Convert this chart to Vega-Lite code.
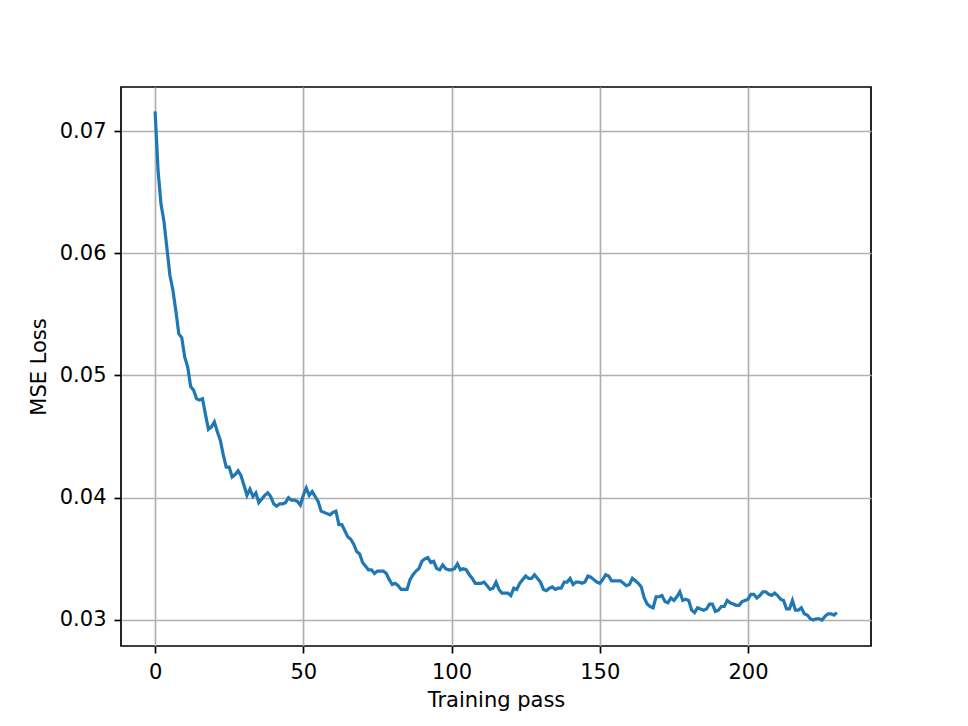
{
  "$schema": "https://vega.github.io/schema/vega-lite/v6.json",
  "width": 750,
  "height": 559,
  "autosize": {"type": "none"},
  "padding": {"left": 121, "top": 87, "right": 97, "bottom": 80},
  "background": "white",
  "config": {
    "font": "DejaVu Sans",
    "view": {"stroke": "black", "strokeWidth": 1.7},
    "axis": {
      "domain": false,
      "grid": true,
      "gridColor": "#b0b0b0",
      "gridWidth": 1.7,
      "gridOpacity": 1,
      "tickColor": "black",
      "tickSize": 7,
      "tickWidth": 1.7,
      "labelFont": "DejaVu Sans",
      "labelFontSize": 21,
      "labelColor": "black",
      "titleFont": "DejaVu Sans",
      "titleFontSize": 21,
      "titleFontWeight": "normal",
      "titleColor": "black",
      "labelPadding": 8
    }
  },
  "data": {
    "values": [
      {"pass": 0, "loss": 0.0716}, {"pass": 1, "loss": 0.0668}, {"pass": 2, "loss": 0.0640}, {"pass": 3, "loss": 0.0626}, {"pass": 4, "loss": 0.0604},
      {"pass": 5, "loss": 0.0582}, {"pass": 6, "loss": 0.0570}, {"pass": 7, "loss": 0.0553}, {"pass": 8, "loss": 0.0534}, {"pass": 9, "loss": 0.0531},
      {"pass": 10, "loss": 0.0515}, {"pass": 11, "loss": 0.0507}, {"pass": 12, "loss": 0.0491}, {"pass": 13, "loss": 0.0488}, {"pass": 14, "loss": 0.0481},
      {"pass": 15, "loss": 0.0480}, {"pass": 16, "loss": 0.0481}, {"pass": 17, "loss": 0.0468}, {"pass": 18, "loss": 0.0456}, {"pass": 19, "loss": 0.0458},
      {"pass": 20, "loss": 0.0462}, {"pass": 21, "loss": 0.0454}, {"pass": 22, "loss": 0.0447}, {"pass": 23, "loss": 0.0435}, {"pass": 24, "loss": 0.0425},
      {"pass": 25, "loss": 0.0425}, {"pass": 26, "loss": 0.0417}, {"pass": 27, "loss": 0.0419}, {"pass": 28, "loss": 0.0422}, {"pass": 29, "loss": 0.0418},
      {"pass": 30, "loss": 0.0410}, {"pass": 31, "loss": 0.0402}, {"pass": 32, "loss": 0.0407}, {"pass": 33, "loss": 0.0401}, {"pass": 34, "loss": 0.0404},
      {"pass": 35, "loss": 0.0396}, {"pass": 36, "loss": 0.0399}, {"pass": 37, "loss": 0.0402}, {"pass": 38, "loss": 0.0404}, {"pass": 39, "loss": 0.0401},
      {"pass": 40, "loss": 0.0395}, {"pass": 41, "loss": 0.0393}, {"pass": 42, "loss": 0.0395}, {"pass": 43, "loss": 0.0395}, {"pass": 44, "loss": 0.0396},
      {"pass": 45, "loss": 0.0400}, {"pass": 46, "loss": 0.0398}, {"pass": 47, "loss": 0.0398}, {"pass": 48, "loss": 0.0397}, {"pass": 49, "loss": 0.0394},
      {"pass": 50, "loss": 0.0402}, {"pass": 51, "loss": 0.0408}, {"pass": 52, "loss": 0.0402}, {"pass": 53, "loss": 0.0405}, {"pass": 54, "loss": 0.0401},
      {"pass": 55, "loss": 0.0397}, {"pass": 56, "loss": 0.0389}, {"pass": 57, "loss": 0.0388}, {"pass": 58, "loss": 0.0387}, {"pass": 59, "loss": 0.0386},
      {"pass": 60, "loss": 0.0388}, {"pass": 61, "loss": 0.0389}, {"pass": 62, "loss": 0.0378}, {"pass": 63, "loss": 0.0378}, {"pass": 64, "loss": 0.0373},
      {"pass": 65, "loss": 0.0368}, {"pass": 66, "loss": 0.0366}, {"pass": 67, "loss": 0.0362}, {"pass": 68, "loss": 0.0356}, {"pass": 69, "loss": 0.0354},
      {"pass": 70, "loss": 0.0347}, {"pass": 71, "loss": 0.0344}, {"pass": 72, "loss": 0.0341}, {"pass": 73, "loss": 0.0341}, {"pass": 74, "loss": 0.0338},
      {"pass": 75, "loss": 0.0340}, {"pass": 76, "loss": 0.0340}, {"pass": 77, "loss": 0.0340}, {"pass": 78, "loss": 0.0338}, {"pass": 79, "loss": 0.0333},
      {"pass": 80, "loss": 0.0329}, {"pass": 81, "loss": 0.0330}, {"pass": 82, "loss": 0.0328}, {"pass": 83, "loss": 0.0325}, {"pass": 84, "loss": 0.0325},
      {"pass": 85, "loss": 0.0325}, {"pass": 86, "loss": 0.0333}, {"pass": 87, "loss": 0.0337}, {"pass": 88, "loss": 0.0340}, {"pass": 89, "loss": 0.0342},
      {"pass": 90, "loss": 0.0348}, {"pass": 91, "loss": 0.0350}, {"pass": 92, "loss": 0.0351}, {"pass": 93, "loss": 0.0347}, {"pass": 94, "loss": 0.0348},
      {"pass": 95, "loss": 0.0342}, {"pass": 96, "loss": 0.0341}, {"pass": 97, "loss": 0.0345}, {"pass": 98, "loss": 0.0342}, {"pass": 99, "loss": 0.0341},
      {"pass": 100, "loss": 0.0341}, {"pass": 101, "loss": 0.0342}, {"pass": 102, "loss": 0.0346}, {"pass": 103, "loss": 0.0341}, {"pass": 104, "loss": 0.0342},
      {"pass": 105, "loss": 0.0341}, {"pass": 106, "loss": 0.0337}, {"pass": 107, "loss": 0.0334}, {"pass": 108, "loss": 0.0330}, {"pass": 109, "loss": 0.0330},
      {"pass": 110, "loss": 0.0330}, {"pass": 111, "loss": 0.0331}, {"pass": 112, "loss": 0.0328}, {"pass": 113, "loss": 0.0325}, {"pass": 114, "loss": 0.0326},
      {"pass": 115, "loss": 0.0331}, {"pass": 116, "loss": 0.0325}, {"pass": 117, "loss": 0.0322}, {"pass": 118, "loss": 0.0322}, {"pass": 119, "loss": 0.0322},
      {"pass": 120, "loss": 0.0320}, {"pass": 121, "loss": 0.0326}, {"pass": 122, "loss": 0.0325}, {"pass": 123, "loss": 0.0330}, {"pass": 124, "loss": 0.0333},
      {"pass": 125, "loss": 0.0336}, {"pass": 126, "loss": 0.0334}, {"pass": 127, "loss": 0.0334}, {"pass": 128, "loss": 0.0337}, {"pass": 129, "loss": 0.0334},
      {"pass": 130, "loss": 0.0331}, {"pass": 131, "loss": 0.0325}, {"pass": 132, "loss": 0.0324}, {"pass": 133, "loss": 0.0326}, {"pass": 134, "loss": 0.0327},
      {"pass": 135, "loss": 0.0325}, {"pass": 136, "loss": 0.0326}, {"pass": 137, "loss": 0.0326}, {"pass": 138, "loss": 0.0331}, {"pass": 139, "loss": 0.0331},
      {"pass": 140, "loss": 0.0334}, {"pass": 141, "loss": 0.0329}, {"pass": 142, "loss": 0.0331}, {"pass": 143, "loss": 0.0331}, {"pass": 144, "loss": 0.0330},
      {"pass": 145, "loss": 0.0331}, {"pass": 146, "loss": 0.0336}, {"pass": 147, "loss": 0.0335}, {"pass": 148, "loss": 0.0333}, {"pass": 149, "loss": 0.0331},
      {"pass": 150, "loss": 0.0330}, {"pass": 151, "loss": 0.0333}, {"pass": 152, "loss": 0.0337}, {"pass": 153, "loss": 0.0336}, {"pass": 154, "loss": 0.0332},
      {"pass": 155, "loss": 0.0332}, {"pass": 156, "loss": 0.0332}, {"pass": 157, "loss": 0.0332}, {"pass": 158, "loss": 0.0330}, {"pass": 159, "loss": 0.0328},
      {"pass": 160, "loss": 0.0329}, {"pass": 161, "loss": 0.0334}, {"pass": 162, "loss": 0.0332}, {"pass": 163, "loss": 0.0330}, {"pass": 164, "loss": 0.0327},
      {"pass": 165, "loss": 0.0318}, {"pass": 166, "loss": 0.0313}, {"pass": 167, "loss": 0.0311}, {"pass": 168, "loss": 0.0310}, {"pass": 169, "loss": 0.0319},
      {"pass": 170, "loss": 0.0319}, {"pass": 171, "loss": 0.0320}, {"pass": 172, "loss": 0.0315}, {"pass": 173, "loss": 0.0314}, {"pass": 174, "loss": 0.0318},
      {"pass": 175, "loss": 0.0316}, {"pass": 176, "loss": 0.0319}, {"pass": 177, "loss": 0.0323}, {"pass": 178, "loss": 0.0316}, {"pass": 179, "loss": 0.0317},
      {"pass": 180, "loss": 0.0316}, {"pass": 181, "loss": 0.0308}, {"pass": 182, "loss": 0.0306}, {"pass": 183, "loss": 0.0310}, {"pass": 184, "loss": 0.0309},
      {"pass": 185, "loss": 0.0308}, {"pass": 186, "loss": 0.0309}, {"pass": 187, "loss": 0.0313}, {"pass": 188, "loss": 0.0313}, {"pass": 189, "loss": 0.0307},
      {"pass": 190, "loss": 0.0308}, {"pass": 191, "loss": 0.0311}, {"pass": 192, "loss": 0.0311}, {"pass": 193, "loss": 0.0316}, {"pass": 194, "loss": 0.0314},
      {"pass": 195, "loss": 0.0313}, {"pass": 196, "loss": 0.0312}, {"pass": 197, "loss": 0.0312}, {"pass": 198, "loss": 0.0315}, {"pass": 199, "loss": 0.0316},
      {"pass": 200, "loss": 0.0317}, {"pass": 201, "loss": 0.0321}, {"pass": 202, "loss": 0.0321}, {"pass": 203, "loss": 0.0318}, {"pass": 204, "loss": 0.0320},
      {"pass": 205, "loss": 0.0323}, {"pass": 206, "loss": 0.0323}, {"pass": 207, "loss": 0.0321}, {"pass": 208, "loss": 0.0320}, {"pass": 209, "loss": 0.0322},
      {"pass": 210, "loss": 0.0320}, {"pass": 211, "loss": 0.0317}, {"pass": 212, "loss": 0.0316}, {"pass": 213, "loss": 0.0309}, {"pass": 214, "loss": 0.0309},
      {"pass": 215, "loss": 0.0316}, {"pass": 216, "loss": 0.0308}, {"pass": 217, "loss": 0.0308}, {"pass": 218, "loss": 0.0310}, {"pass": 219, "loss": 0.0305},
      {"pass": 220, "loss": 0.0304}, {"pass": 221, "loss": 0.0301}, {"pass": 222, "loss": 0.0300}, {"pass": 223, "loss": 0.0301}, {"pass": 224, "loss": 0.0301},
      {"pass": 225, "loss": 0.0300}, {"pass": 226, "loss": 0.0303}, {"pass": 227, "loss": 0.0305}, {"pass": 228, "loss": 0.0305}, {"pass": 229, "loss": 0.0304},
      {"pass": 230, "loss": 0.0306}
    ]
  },
  "mark": {"type": "line", "color": "#1f77b4", "strokeWidth": 3.2, "clip": true},
  "encoding": {
    "x": {
      "field": "pass",
      "type": "quantitative",
      "scale": {"domain": [-11.5, 241.5], "nice": false, "zero": false},
      "axis": {"values": [0, 50, 100, 150, 200], "title": "Training pass", "titlePadding": 7}
    },
    "y": {
      "field": "loss",
      "type": "quantitative",
      "scale": {"domain": [0.02787, 0.0736], "nice": false, "zero": false},
      "axis": {"values": [0.03, 0.04, 0.05, 0.06, 0.07], "format": ".2f", "title": "MSE Loss", "titlePadding": 10}
    }
  }
}
